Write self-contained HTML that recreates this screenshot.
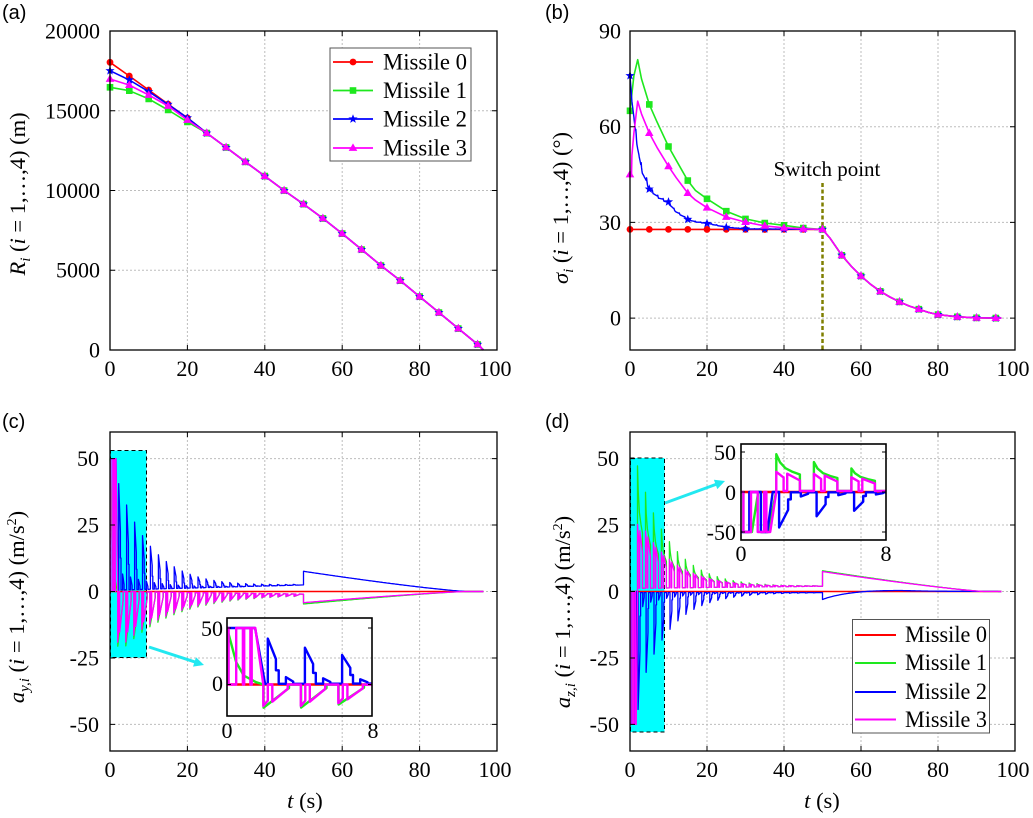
<!DOCTYPE html>
<html><head><meta charset="utf-8"><style>
html,body{margin:0;padding:0;background:#fff;}
svg{display:block;}
text{font-family:"Liberation Serif",serif;fill:#000;}
.sans{font-family:"Liberation Sans",sans-serif;}
</style></head><body>
<svg id="svg" width="1033" height="818" viewBox="0 0 1033 818" xmlns="http://www.w3.org/2000/svg">
<defs>
<clipPath id="ciC"><rect x="227" y="618" width="145" height="98"/></clipPath>
<clipPath id="ciD"><rect x="741" y="444" width="145" height="96"/></clipPath>
</defs>
<rect x="0" y="0" width="1033" height="818" fill="#fff"/>
<g id="grid" stroke="#bdbdbd" stroke-width="1" stroke-dasharray="2 2"></g>
<rect x="110.5" y="450.5" width="36" height="207" fill="#00ffff" stroke="#000" stroke-width="1" stroke-dasharray="4 3"/>
<rect x="630.5" y="458" width="34" height="274" fill="#00ffff" stroke="#000" stroke-width="1" stroke-dasharray="4 3"/>
<line x1="822.5" y1="183" x2="822.5" y2="350" stroke="#7f7f00" stroke-width="2.5" stroke-dasharray="4 2.5"/>
<g id="curves" fill="none" stroke-linejoin="round"></g>
<g fill="none" stroke="#000" stroke-width="1.3">
<rect x="110" y="31" width="387" height="319"/>
<rect x="630" y="31" width="385" height="319"/>
<rect x="110" y="432" width="387" height="319"/>
<rect x="630" y="432" width="385" height="319"/>
<rect x="227" y="618" width="145" height="98" stroke-width="1.6"/>
<rect x="741" y="444" width="145" height="96" stroke-width="1.6"/>
</g>
<g id="ticks" stroke="#000" stroke-width="1" fill="none"></g>
<rect x="330" y="48" width="141" height="113" fill="#fff" stroke="#555" stroke-width="1"/>
<rect x="852.5" y="619.5" width="137" height="113.5" fill="#fff" stroke="#555" stroke-width="1"/>
<g id="leg" fill="none"></g>
<!-- arrows -->
<line x1="149" y1="647" x2="196" y2="662.3" stroke="#22e8f0" stroke-width="3"/>
<polygon points="204,665 193,666.6 196,657.2" fill="#22e8f0"/>
<line x1="665" y1="503" x2="717" y2="484" stroke="#22e8f0" stroke-width="3"/>
<polygon points="725,481 717.3,489.1 713.9,479.7" fill="#22e8f0"/>

<!-- panel labels -->
<text class="sans" x="2" y="19" font-size="20">(a)</text>
<text class="sans" x="545" y="19" font-size="20">(b)</text>
<text class="sans" x="2" y="428" font-size="20">(c)</text>
<text class="sans" x="545" y="428" font-size="20">(d)</text>

<g font-size="22" text-anchor="end">
<text x="100" y="38.5">20000</text><text x="100" y="118.5">15000</text><text x="100" y="198">10000</text><text x="100" y="277.5">5000</text><text x="100" y="357.5">0</text>
<text x="621" y="38.5">90</text><text x="621" y="134.2">60</text><text x="621" y="229.9">30</text><text x="621" y="325.5">0</text>
<text x="99" y="466">50</text><text x="99" y="532.5">25</text><text x="99" y="599">0</text><text x="99" y="665.5">-25</text><text x="99" y="732">-50</text>
<text x="619" y="466">50</text><text x="619" y="532.5">25</text><text x="619" y="599">0</text><text x="619" y="665.5">-25</text><text x="619" y="732">-50</text>
<text x="223" y="636">50</text><text x="223" y="691">0</text>
<text x="736" y="460">50</text><text x="736" y="500">0</text><text x="736" y="540">-50</text>
</g>
<g font-size="22" text-anchor="middle">
<text x="110" y="376">0</text><text x="187.4" y="376">20</text><text x="264.8" y="376">40</text><text x="342.2" y="376">60</text><text x="419.6" y="376">80</text><text x="495" y="376">100</text>
<text x="630" y="376">0</text><text x="707" y="376">20</text><text x="784" y="376">40</text><text x="861" y="376">60</text><text x="938" y="376">80</text><text x="1013" y="376">100</text>
<text x="110" y="777">0</text><text x="187.4" y="777">20</text><text x="264.8" y="777">40</text><text x="342.2" y="777">60</text><text x="419.6" y="777">80</text><text x="495" y="777">100</text>
<text x="630" y="777">0</text><text x="707" y="777">20</text><text x="784" y="777">40</text><text x="861" y="777">60</text><text x="938" y="777">80</text><text x="1013" y="777">100</text>
<text x="227" y="738">0</text><text x="373" y="738">8</text>
<text x="741" y="561">0</text><text x="886" y="561">8</text>
</g>

<!-- axis labels -->
<text font-size="22.5" text-anchor="middle" transform="translate(25,194) rotate(-90)"><tspan font-style="italic">R</tspan><tspan font-style="italic" font-size="15" dy="5">i</tspan><tspan dy="-5"> (</tspan><tspan font-style="italic">i</tspan><tspan> = 1,…,4) (m)</tspan></text>
<text font-size="22.5" text-anchor="middle" transform="translate(568,208) rotate(-90)"><tspan font-style="italic">σ</tspan><tspan font-style="italic" font-size="15" dy="5">i</tspan><tspan dy="-5"> (</tspan><tspan font-style="italic">i</tspan><tspan> = 1,…,4) (°)</tspan></text>
<text font-size="22.5" text-anchor="middle" transform="translate(24,607) rotate(-90)"><tspan font-style="italic">a</tspan><tspan font-style="italic" font-size="15" dy="5">y,i</tspan><tspan dy="-5"> (</tspan><tspan font-style="italic">i</tspan><tspan> = 1,…,4) (m/s</tspan><tspan font-size="14" dy="-8">2</tspan><tspan dy="8">)</tspan></text>
<text font-size="22.5" text-anchor="middle" transform="translate(570,612) rotate(-90)"><tspan font-style="italic">a</tspan><tspan font-style="italic" font-size="15" dy="5">z,i</tspan><tspan dy="-5"> (</tspan><tspan font-style="italic">i</tspan><tspan> = 1,…,4) (m/s</tspan><tspan font-size="14" dy="-8">2</tspan><tspan dy="8">)</tspan></text>
<text font-size="22.5" text-anchor="middle" x="305" y="808"><tspan font-style="italic">t</tspan> (s)</text>
<text font-size="22.5" text-anchor="middle" x="822" y="808"><tspan font-style="italic">t</tspan> (s)</text>
<text font-size="21" text-anchor="middle" x="827" y="176">Switch point</text>

<!-- legends text -->
<g font-size="23">
<text x="383" y="69.5" textLength="84" lengthAdjust="spacingAndGlyphs">Missile 0</text>
<text x="383" y="98" textLength="84" lengthAdjust="spacingAndGlyphs">Missile 1</text>
<text x="383" y="126.5" textLength="84" lengthAdjust="spacingAndGlyphs">Missile 2</text>
<text x="383" y="155.5" textLength="84" lengthAdjust="spacingAndGlyphs">Missile 3</text>
<text x="905" y="642" textLength="82" lengthAdjust="spacingAndGlyphs">Missile 0</text>
<text x="905" y="670" textLength="82" lengthAdjust="spacingAndGlyphs">Missile 1</text>
<text x="905" y="699" textLength="82" lengthAdjust="spacingAndGlyphs">Missile 2</text>
<text x="905" y="727" textLength="82" lengthAdjust="spacingAndGlyphs">Missile 3</text>
</g>
</svg>
<script>
(function(){
var NS='http://www.w3.org/2000/svg';
function el(p,tag,a){var e=document.createElementNS(NS,tag);for(var k in a)e.setAttribute(k,a[k]);p.appendChild(e);return e;}
function mk(px0,px1,py0,py1,t0,t1,v0,v1){return function(t,v){return [px0+(t-t0)/(t1-t0)*(px1-px0), py0+(v-v0)/(v1-v0)*(py1-py0)];};}
var MA=mk(110,497,350,31,0,100,0,20000), MB=mk(630,1015,350,31,0,100,-10,90),
    MC=mk(110,497,751,432,0,100,-60,60), MD=mk(630,1015,751,432,0,100,-60,60),
    IC=mk(227,372,684.5,628,0,8,0,50), ID=mk(741,886,540,444,0,8,-60,60);
function d(pts,M,tmax){var s='',n=0;for(var i=0;i<pts.length;i++){if(tmax!==undefined&&i>0&&pts[i-1][0]>tmax)break;var p=M(pts[i][0],pts[i][1]);s+=(n?'L':'M')+p[0].toFixed(1)+' '+p[1].toFixed(1);n++;}return s;}
var grid=document.getElementById('grid'),cur=document.getElementById('curves'),tk=document.getElementById('ticks'),leg=document.getElementById('leg');
function gridp(M,xs,ys,x0,x1,y0,y1){xs.forEach(function(t){var x=M(t,0)[0].toFixed(1);el(grid,'line',{x1:x,x2:x,y1:y0,y2:y1});});ys.forEach(function(v){var y=M(0,v)[1].toFixed(1);el(grid,'line',{x1:x0,x2:x1,y1:y,y2:y});});}
function ticks(M,xs,ys,x0,x1,y0,y1,L){var s='';xs.forEach(function(t){var x=M(t,0)[0].toFixed(1);s+='M'+x+' '+y1+'V'+(y1-L)+'M'+x+' '+y0+'V'+(y0+L);});ys.forEach(function(v){var y=M(0,v)[1].toFixed(1);s+='M'+x0+' '+y+'H'+(x0+L)+'M'+x1+' '+y+'H'+(x1-L);});el(tk,'path',{d:s});}
var X5=[20,40,60,80];
gridp(MA,X5,[5000,10000,15000],110,497,31,350);
gridp(MB,X5,[0,30,60],630,1015,31,350);
gridp(MC,X5,[-50,-25,0,25,50],110,497,432,751);
gridp(MD,X5,[-50,-25,0,25,50],630,1015,432,751);
var XT=[0,20,40,60,80,100];
ticks(MA,XT,[0,5000,10000,15000,20000],110,497,31,350,5);
ticks(MB,XT,[-10,0,30,60,90],630,1015,31,350,5);
ticks(MC,XT,[-50,-25,0,25,50],110,497,432,751,5);
ticks(MD,XT,[-50,-25,0,25,50],630,1015,432,751,5);
ticks(IC,[0,8],[0,50],227,372,618,716,4);
ticks(ID,[0,8],[-50,0,50],741,886,444,540,4);

function lin(a,t){for(var i=1;i<a.length;i++){if(t<=a[i][0]){var p=a[i-1],q=a[i];if(q[0]==p[0])return q[1];return p[1]+(q[1]-p[1])*(t-p[0])/(q[0]-p[0]);}}return a[a.length-1][1];}
function f1(v){return v.toFixed(1);}
function mark(ty,x,y){
 if(ty=='o')return 'M'+f1(x-3.4)+' '+f1(y)+'a3.4 3.4 0 1 0 6.8 0a3.4 3.4 0 1 0 -6.8 0Z';
 if(ty=='s')return 'M'+f1(x-3.3)+' '+f1(y-3.3)+'h6.6v6.6h-6.6Z';
 if(ty=='^')return 'M'+f1(x)+' '+f1(y-4.6)+'L'+f1(x+4.3)+' '+f1(y+2.9)+'L'+f1(x-4.3)+' '+f1(y+2.9)+'Z';
 var s='';for(var i=0;i<10;i++){var a=(-90+36*i)*Math.PI/180,r=i%2?2:4.8;s+=(i?'L':'M')+f1(x+r*Math.cos(a))+' '+f1(y+r*Math.sin(a));}return s+'Z';
}
var RC='#ff0000',GC='#1ee81e',BC='#0000ff',PC='#ff00ff';
var MT=[];for(var i=0;i<=95;i+=5)MT.push(i);
function series(M,pts,col,w,ty,mt,tgt){tgt=tgt||cur;el(tgt,'path',{d:d(pts,M),stroke:col,'stroke-width':w});if(ty){var s='';mt.forEach(function(t){var p=M(t,lin(pts,t));s+=mark(ty,p[0],p[1]);});el(tgt,'path',{d:s,fill:col,stroke:'none'});}}

/* ---- panel (a) ---- */
var common=[[25,13600],[30,12700],[35,11800],[40,10900],[45,10000],[50,9150],[55,8250],[60,7300],[65,6300],[70,5300],[75,4350],[80,3350],[85,2350],[90,1350],[95,350],[96.5,0]];
var RA=[[[0,18040],[5,17180],[10,16300],[15,15420],[20,14550]],
 [[0,16470],[5,16260],[10,15740],[15,15050],[20,14300]],
 [[0,17510],[5,16930],[10,16200],[15,15400],[20,14550]],
 [[0,16990],[5,16610],[10,15990],[15,15300],[20,14420]]];
var cols=[RC,GC,BC,PC],tys=['o','s','*','^'];
for(var k=0;k<4;k++)series(MA,RA[k].concat(common),cols[k],1.6,tys[k],MT);

/* ---- panel (b) ---- */
var tail=[[52,25],[55,19.7],[57.5,16.2],[60,13.2],[62.5,10.6],[65,8.4],[67.5,6.6],[70,5.1],[72.5,3.8],[75,2.8],[77.5,1.8],[80,1.1],[85,0.4],[90,0.1],[95,0],[96.5,0]];
var redB=[[0,27.8],[50,27.8]].concat(tail);
var grnB=[[0,65],[1,76],[2,81],[3,75],[5,67],[7,61.5],[10,53.8],[12,49.5],[15,43.1],[17,40],[20,37.4],[25,33.5],[30,31.1],[35,29.8],[40,29.1],[45,28.2],[50,27.8]].concat(tail);
var pnkB=[[0,45],[0.4,45],[0.5,51],[1,58],[2,68],[3,64],[5,58],[7,53.5],[10,47.6],[12,44],[15,39.2],[17,37],[20,34.6],[25,31.7],[30,30.1],[35,28.9],[40,28.3],[45,28],[50,27.8]].concat(tail);
var bb=[[0,76],[0.5,68],[1,63],[1.5,58],[2,54],[3,47],[4,44],[5,41],[7,38.5],[10,36.3],[12,33.5],[15,31.1],[17,30.3],[20,29.8],[25,28.5],[30,28],[50,27.8]];
function bval(t){var v=lin(bb,t);if(t>1.5&&t<45){var f=((t-1.5)/1.4)%1;var amp=2.4*Math.exp(-(t-1.5)/9);v+=amp*(f<0.2?0.5-f/0.2:-0.5+(f-0.2)/0.8*0.4);}return v;}
var bluB=[];for(var t=0;t<50;t+=0.1)bluB.push([t,bval(t)]);bluB.push([50,27.8]);bluB=bluB.concat(tail);
series(MB,redB,RC,1.6,'o',MT);
series(MB,grnB,GC,1.6,'s',MT);
series(MB,bluB,BC,1.4,'*',MT);
series(MB,pnkB,PC,1.6,'^',MT);

/* ---- panels (c),(d) ---- */
function decay(p,v0,h,e){for(var t=50.25;t<=96.51;t+=0.25){var r=1-(t-50)/h;p.push([t,r>0?v0*Math.pow(r,e):0]);}}
var red0=[[0,0],[96.5,0]];
function blueC(){var p=[[0,50],[1.55,50],[2.1,0.5]];
 for(var k=0;;k++){var q=2.25+2.05*k;if(q>48.3)break;var A=40*Math.exp(-(q-2.25)/9),b=0.5+2*q/50;
  p.push([q,b],[q,b+A],[q+0.45,b+0.55*A],[q+0.45,b+0.3*A],[q+0.6,b+0.3*A],[q+0.6,b],[q+1.0,b],[q+1.0,b+0.15*A],[q+1.4,b+0.05*A],[q+1.4,b]);}
 p.push([50,2.5],[50,7.6]);decay(p,7.6,42,1.2);return p;}
function magC(){var p=[[0,50],[0.09,50],[0.09,0],[0.51,0],[0.51,50],[0.88,50],[0.88,0],[0.95,0],[0.95,50],[1.29,50],[1.29,0],[1.36,0],[1.36,50],[1.56,50],[2.0,0]];
 for(var k=0;;k++){var s=2.0+2.07*k;if(s>48.3)break;var B=Math.min(19,19*Math.exp(-(s-4)/14)),m=-0.02*s;
  p.push([s,m],[s,m-B],[s+0.25,m-0.75*B],[s+0.25,m],[s+0.5,m],[s+0.5,m-0.8*B],[s+1.35,m-0.2*B],[s+1.35,m]);}
 p.push([50,-1],[50,-4.2]);decay(p,-4.2,42,1.2);return p;}
function grnC(){var p=[[0,50],[0.5,20],[0.92,8],[1.6,2],[2.0,0]];
 for(var k=0;;k++){var s=2.02+2.07*k;if(s>48.3)break;var B=1.08*Math.min(19,19*Math.exp(-(s-4)/14)),m=-0.02*s;
  p.push([s,m],[s,m-B],[s+1.4,m-0.15*B],[s+1.4,m]);}
 p.push([50,-1],[50,-4.7]);decay(p,-4.7,42,1.2);return p;}
function blueD(){var p=[[0,-50],[0.46,-50],[0.46,0],[1.1,0],[1.1,-50],[1.45,-50],[1.75,0],[2.1,0]];
 for(var k=0;;k++){var q=2.1+2.07*k;if(q>48.3)break;var C=k==0?44:30*Math.exp(-(q-4.17)/8),b=-0.4;
  p.push([q,b],[q,b-C],[q+0.5,b-0.5*C],[q+0.5,b-0.2*C],[q+0.65,b-0.2*C],[q+0.65,b],[q+1.2,b],[q+1.2,b-0.12*C],[q+1.6,b-0.04*C],[q+1.6,b]);}
 p.push([50,-0.4],[50,-3]);
 for(var t=50.25;t<=96.51;t+=0.25){var v=-3*Math.exp(-(t-50)/6)+0.5*Math.min(1,(t-50)/12)*(t>70?Math.exp(-(t-70)/8):1);p.push([t,v]);}
 return p;}
function magD(){var p=[[0,0],[0.13,0],[0.13,-50],[0.55,-50],[0.55,0],[0.92,0],[0.92,-50],[1.28,-50],[1.28,0],[1.4,0],[1.4,-50],[1.61,-50],[1.95,0]];
 for(var k=0;;k++){var q=1.95+2.07*k;if(q>48.3)break;var D=Math.min(24,24*Math.exp(-(q-3)/9)),m=1.2+0.016*q;
  p.push([q,m],[q,m+D],[q+0.4,m+0.7*D],[q+0.4,m],[q+0.6,m],[q+0.6,m+0.9*D],[q+1.3,m+0.55*D],[q+1.3,m]);}
 p.push([50,2],[50,7.5]);decay(p,7.5,42,1.2);return p;}
function grnD(){var p=[[0,0],[0.13,0],[0.13,-50],[0.6,-50],[0.95,0],[1.1,0],[1.1,-50],[1.5,-50]];
 for(var k=0;;k++){var q=1.95+2.07*k;if(q>48.3)break;var E=46*Math.exp(-(q-1.95)/8.5),m=1.2+0.016*q;
  p.push([q,m],[q,m+E],[q+0.2,m+0.78*E],[q+0.5,m+0.62*E],[q+0.9,m+0.52*E],[q+1.3,m+0.45*E],[q+1.3,m]);}
 p.push([50,2],[50,7.8]);decay(p,7.8,42,1.2);return p;}
var cB=blueC(),cM=magC(),cG=grnC(),dB=blueD(),dM=magD(),dG=grnD();
series(MC,red0,RC,1.4);series(MC,cG,GC,1.3);series(MC,cB,BC,1.3);series(MC,cM,PC,1.3);
series(MD,red0,RC,1.4);series(MD,dG,GC,1.3);series(MD,dB,BC,1.3);series(MD,dM,PC,1.3);
function inset(M,pts,col,cp){el(cur,'path',{d:d(pts,M,8.3),stroke:col,'stroke-width':2.4,'clip-path':'url(#'+cp+')'});}
inset(IC,red0,RC,'ciC');inset(IC,cG,GC,'ciC');inset(IC,cB,BC,'ciC');inset(IC,cM,PC,'ciC');
inset(ID,red0,RC,'ciD');inset(ID,dG,GC,'ciD');inset(ID,dB,BC,'ciD');inset(ID,dM,PC,'ciD');

/* legends */
var ly=[62,90.5,119,148];
for(var k=0;k<4;k++){el(leg,'line',{x1:333,x2:373,y1:ly[k],y2:ly[k],stroke:cols[k],'stroke-width':1.8});el(leg,'path',{d:mark(tys[k],353,ly[k]),fill:cols[k]});}
var ly2=[635,663,692,719.5];
for(var k=0;k<4;k++){el(leg,'line',{x1:855,x2:896,y1:ly2[k],y2:ly2[k],stroke:cols[k],'stroke-width':2});}
})();
</script>
</body></html>
